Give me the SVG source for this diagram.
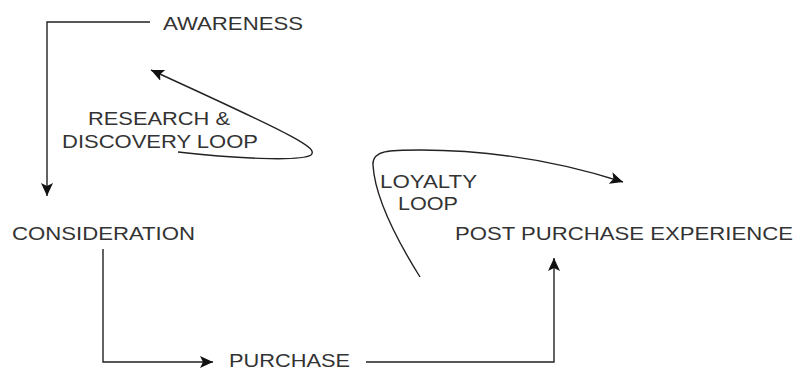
<svg xmlns="http://www.w3.org/2000/svg" width="796" height="370" viewBox="0 0 796 370">
<style>
.t{font-family:"Liberation Sans",Arial,sans-serif;font-size:19px;fill:#333}
.c{fill:none;stroke:#222;stroke-width:1.4}
</style>
<defs>
<marker id="ah" markerUnits="userSpaceOnUse" markerWidth="14" markerHeight="12" refX="13" refY="6" orient="auto">
<path d="M0,0 L13,6 L0,12 L3,6 Z" fill="#111"/>
</marker>
</defs>
<rect width="796" height="370" fill="#fff"/>
<g id="connectors">
<path class="c" d="M150,22 H47 V196" marker-end="url(#ah)"/>
<path class="c" d="M178,152 C230,158 300,162 311,155 C318,148 300,138 151,70" marker-end="url(#ah)"/>
<path class="c" d="M420,277 C400,245 375,200 373,165 C372,150 390,150 420,150 C500,150 570,165 623,182" marker-end="url(#ah)"/>
<path class="c" d="M103,249 V362 H213" marker-end="url(#ah)"/>
<path class="c" d="M366,362 H554 V258" marker-end="url(#ah)"/>
</g>
<g id="awareness"><text class="t" x="163" y="30" textLength="140" lengthAdjust="spacingAndGlyphs">AWARENESS</text></g>
<g id="research-loop"><text class="t" x="88" y="125" textLength="142" lengthAdjust="spacingAndGlyphs">RESEARCH &amp;</text><text class="t" x="62" y="148" textLength="196" lengthAdjust="spacingAndGlyphs">DISCOVERY LOOP</text></g>
<g id="consideration"><text class="t" x="12" y="240" textLength="183" lengthAdjust="spacingAndGlyphs">CONSIDERATION</text></g>
<g id="purchase"><text class="t" x="229" y="367" textLength="121" lengthAdjust="spacingAndGlyphs">PURCHASE</text></g>
<g id="loyalty-loop"><text class="t" x="380" y="188" textLength="97" lengthAdjust="spacingAndGlyphs">LOYALTY</text><text class="t" x="398" y="210" textLength="60" lengthAdjust="spacingAndGlyphs">LOOP</text></g>
<g id="post-purchase"><text class="t" x="455" y="240" textLength="338" lengthAdjust="spacingAndGlyphs">POST PURCHASE EXPERIENCE</text></g>
</svg>
